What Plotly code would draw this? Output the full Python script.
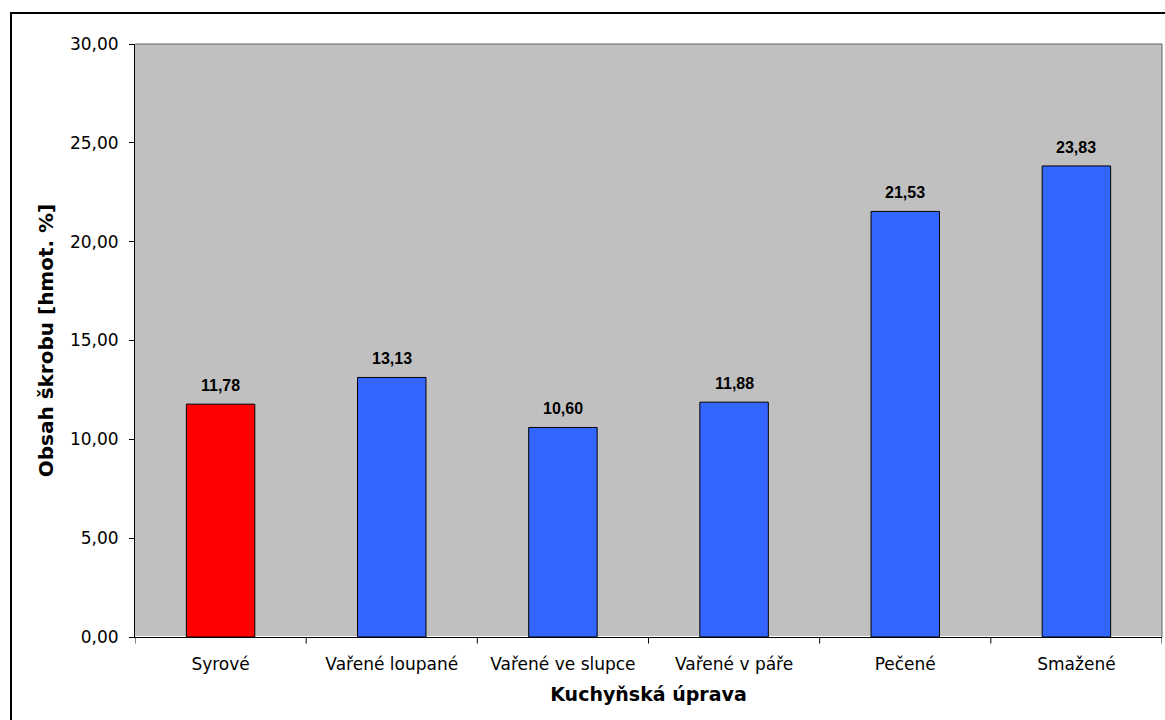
import plotly.graph_objects as go

# Starch content by cooking method
categories = ["Syrové", "Vařené loupané", "Vařené ve slupce", "Vařené v páře", "Pečené", "Smažené"]
values = [11.78, 13.13, 10.60, 11.88, 21.53, 23.83]
bar_colors = ["#FF0000", "#3366FF", "#3366FF", "#3366FF", "#3366FF", "#3366FF"]
y_ticks = [0, 5, 10, 15, 20, 25, 30]

labels = [f"{v:.2f}".replace(".", ",") for v in values]

FONT = "DejaVu Sans, Verdana, sans-serif"

fig = go.Figure()
fig.add_trace(go.Bar(
    x=categories,
    y=values,
    marker=dict(color=bar_colors, line=dict(color="#000000", width=1)),
    width=0.4,
    hoverinfo="skip",
))

# value labels above each bar
for cat, val, lab in zip(categories, values, labels):
    fig.add_annotation(
        x=cat, y=val, text=f"<b>{lab}</b>", showarrow=False,
        yanchor="bottom", yshift=8,
        font=dict(family="Liberation Sans, Arial, sans-serif", size=16, color="#000000"),
    )

fig.update_layout(
    width=1165,
    height=720,
    margin=dict(l=135, r=3, t=44, b=83),
    paper_bgcolor="#FFFFFF",
    plot_bgcolor="#C0C0C0",
    separators=", ",
    showlegend=False,
    font=dict(family=FONT, size=17, color="#000000"),
    xaxis=dict(
        showgrid=False,
        showline=True,
        linecolor="#000000",
        linewidth=1,
        ticks="",
        tickfont=dict(size=17),
        ticklabelstandoff=12,
        title=dict(text="<b>Kuchyňská úprava</b>", font=dict(size=19), standoff=14),
        range=[-0.5, 5.5],
    ),
    yaxis=dict(
        range=[0, 30],
        tickvals=y_ticks,
        tickformat=".2f",
        showgrid=False,
        showline=True,
        linecolor="#000000",
        linewidth=1,
        ticks="outside",
        ticklen=5,
        tickcolor="#000000",
        tickfont=dict(size=17),
        ticklabelstandoff=7,
        title=dict(text="<b>Obsah škrobu [hmot. %]</b>", font=dict(size=20), standoff=10),
    ),
    bargap=0.6,
)

# category boundary ticks on the x axis
shapes = []
for i in range(len(categories) + 1):
    xb = i - 0.5
    shapes.append(dict(type="line", xref="x", yref="paper", x0=xb, x1=xb,
                       y0=0, y1=-0.011, line=dict(color="#000000", width=1)))

# plot area frame (top and right)
shapes.append(dict(type="line", xref="paper", yref="paper", x0=0, x1=1, y0=1, y1=1,
                   line=dict(color="#606060", width=1)))
shapes.append(dict(type="line", xref="paper", yref="paper", x0=1, x1=1, y0=0, y1=1,
                   line=dict(color="#606060", width=1)))

# outer chart border
plot_w = 1165 - 135 - 3
plot_h = 720 - 44 - 83
shapes.append(dict(type="rect", xref="paper", yref="paper",
                   x0=(11 - 135) / plot_w, x1=(1175 - 135) / plot_w,
                   y0=(637 - 730) / plot_h, y1=(637 - 13) / plot_h,
                   line=dict(color="#000000", width=2), fillcolor="rgba(0,0,0,0)",
                   layer="below"))

fig.update_layout(shapes=shapes)

fig.write_html("out.html")
